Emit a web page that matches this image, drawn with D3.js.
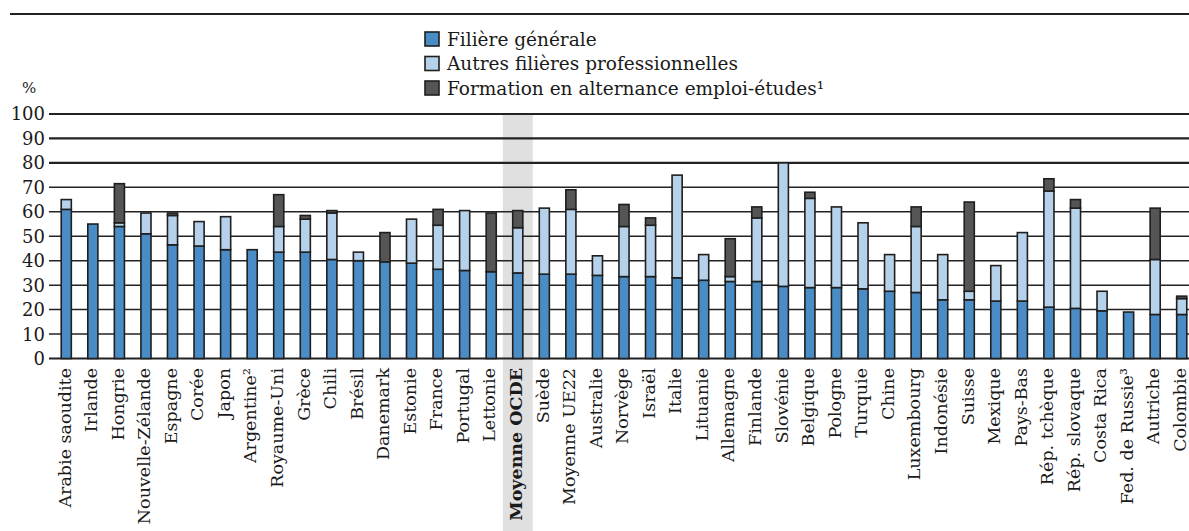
<!DOCTYPE html>
<html>
<head>
<meta charset="utf-8">
<script src="https://cdn.jsdelivr.net/npm/d3@7"></script>
<style>
  body { margin: 0; background: #fff; }
  text { font-family: "DejaVu Serif", serif; fill: #1a1a1a; }
</style>
</head>
<body>
<svg id="chart"></svg>
<script>
// categories, in the order of the figure
const countries = ["Arabie saoudite", "Irlande", "Hongrie", "Nouvelle-Zélande", "Espagne", "Corée", "Japon",
  "Argentine²", "Royaume-Uni", "Grèce", "Chili", "Brésil", "Danemark", "Estonie", "France", "Portugal",
  "Lettonie", "Moyenne OCDE", "Suède", "Moyenne UE22", "Australie", "Norvège", "Israël", "Italie",
  "Lituanie", "Allemagne", "Finlande", "Slovénie", "Belgique", "Pologne", "Turquie", "Chine",
  "Luxembourg", "Indonésie", "Suisse", "Mexique", "Pays-Bas", "Rép. tchèque", "Rép. slovaque",
  "Costa Rica", "Fed. de Russie³", "Autriche", "Colombie"];

// % values per series
const generale = [61, 55, 54, 51, 46.5, 46, 44.5, 44.5, 43.5, 43.5, 40.5, 40, 39.5, 39, 36.5, 36,
  35.5, 35, 34.5, 34.5, 34, 33.5, 33.5, 33, 32, 31.5, 31.5, 29.5, 29, 29, 28.5, 27.5,
  27, 24, 24, 23.5, 23.5, 21, 20.5, 19.5, 19, 18, 18];
const professionnelles = [4, 0, 1.5, 8.5, 12, 10, 13.5, 0, 10.5, 13.5, 19, 3.5, 0, 18, 18, 24.5,
  0, 18.5, 27, 26.5, 8, 20.5, 21, 42, 10.5, 2, 26, 50.5, 36.5, 33, 27, 15,
  27, 18.5, 3.5, 14.5, 28, 47.5, 41, 8, 0, 22.5, 6.5];
const alternance = [0, 0, 16, 0, 1, 0, 0, 0, 13, 1.5, 1, 0, 12, 0, 6.5, 0,
  24, 7, 0, 8, 0, 9, 3, 0, 0, 15.5, 4.5, 0, 2.5, 0, 0, 0,
  8, 0, 36.5, 0, 0, 5, 3.5, 0, 0, 21, 1];

const seriesNames = ["Filière générale", "Autres filières professionnelles", "Formation en alternance emploi-études¹"];
const seriesColors = ["#4a8dc6", "#b5d2ea", "#555555"];
const yTicks = [0, 10, 20, 30, 40, 50, 60, 70, 80, 90, 100];
const highlight = "Moyenne OCDE";

const W = 1189, H = 531;
const svg = d3.select("#chart").attr("width", W).attr("height", H);

const x = d3.scaleBand().domain(countries).range([53, 1195]).paddingInner(0.62).paddingOuter(0.31);
const y = d3.scaleLinear().domain([0, 100]).range([358.5, 114]);

// top rule
svg.append("line").attr("x1", 10).attr("x2", W).attr("y1", 14).attr("y2", 14)
  .attr("stroke", "#222").attr("stroke-width", 2);

// OECD highlight band
svg.append("rect")
  .attr("x", x(highlight) + x.bandwidth() / 2 - 15).attr("width", 30)
  .attr("y", y(100)).attr("height", H - y(100))
  .attr("fill", "#e0e0e0");

// gridlines + y labels
const grid = svg.append("g");
yTicks.forEach(t => {
  grid.append("line").attr("x1", 49).attr("x2", W)
    .attr("y1", y(t)).attr("y2", y(t))
    .attr("stroke", "#222")
    .attr("stroke-width", (t >= 80 || t === 0) ? 2.2 : 1.5);
  grid.append("text").attr("x", 45).attr("y", y(t)).attr("dy", "0.36em")
    .attr("text-anchor", "end").attr("font-size", 18).text(t);
});
svg.append("text").attr("x", 22).attr("y", 93).attr("font-size", 15).text("%");

// stacked bars
const rows = countries.map((c, i) => ({ country: c, v: [generale[i], professionnelles[i], alternance[i]] }));
const bars = svg.append("g");
rows.forEach(r => {
  let base = 0;
  r.v.forEach((val, k) => {
    if (val <= 0) return;
    bars.append("rect")
      .attr("x", x(r.country)).attr("width", x.bandwidth())
      .attr("y", y(base + val)).attr("height", y(base) - y(base + val))
      .attr("fill", seriesColors[k])
      .attr("stroke", "#1f1f1f").attr("stroke-width", 1.6);
    base += val;
  });
});

// category labels
svg.append("g").selectAll("text").data(countries).enter().append("text")
  .attr("transform", d => `translate(${x(d) + x.bandwidth() / 2 - 1},368) rotate(-90)`)
  .attr("dy", "0.3em")
  .attr("text-anchor", "end")
  .attr("font-size", 17.5)
  .attr("font-weight", d => d === highlight ? "bold" : "normal")
  .text(d => d);

// legend
const legend = svg.append("g").attr("transform", "translate(425,39)");
seriesNames.forEach((name, k) => {
  const g = legend.append("g").attr("transform", `translate(0,${k * 24.5})`);
  g.append("rect").attr("x", 0).attr("y", -7).attr("width", 14).attr("height", 14)
    .attr("fill", seriesColors[k]).attr("stroke", "#1f1f1f").attr("stroke-width", 1.6);
  g.append("text").attr("x", 22).attr("y", 0).attr("dy", "0.36em")
    .attr("font-size", 18.5).text(name);
});
</script>
</body>
</html>
